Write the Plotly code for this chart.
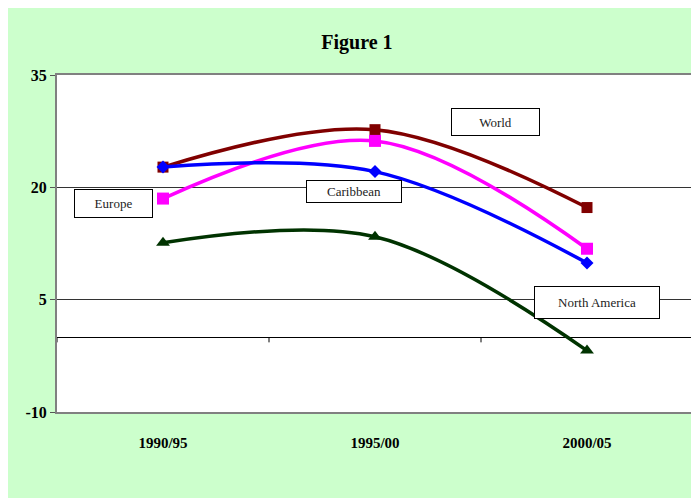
import plotly.graph_objects as go

categories = ["1990/95", "1995/00", "2000/05"]
world = [22.7, 27.7, 17.3]
europe = [18.5, 26.2, 11.8]
caribbean = [22.7, 22.1, 9.9]
north_america = [12.6, 13.4, -1.8]
y_ticks = [-10, 5, 20, 35]
y_tick_labels = ["-10", "5", "20", "35"]

series = [
    ("World", world, "#800000", "square", 11),
    ("Europe", europe, "#FF00FF", "square", 12),
    ("Caribbean", caribbean, "#0000FF", "diamond", 10),
    ("North America", north_america, "#003300", "triangle-up", 12),
]

xs = list(range(len(categories)))
fig = go.Figure()
for name, vals, color, sym, ms in series:
    fig.add_trace(go.Scatter(
        x=xs, y=vals, mode="lines+markers", name=name,
        line=dict(color=color, width=3.5, shape="spline", smoothing=1.0),
        marker=dict(color=color, symbol=sym, size=ms),
    ))

serif = "Liberation Serif"
labels = [
    ("Europe", -0.232, 17.8, 77, 27),
    ("Caribbean", 0.899, 19.47, 94, 21),
    ("World", 1.57, 28.73, 87, 26),
    ("North America", 2.048, 4.67, 124, 31),
]
for text, ax, ay, w, h in labels:
    fig.add_annotation(x=ax, y=ay, xref="x", yref="y", text=text, showarrow=False,
                       font=dict(family=serif, size=13, color="#222"),
                       bgcolor="white", bordercolor="black", borderwidth=1,
                       borderpad=0, width=w, height=h)

shapes = []
for i in range(len(categories) + 1):
    shapes.append(dict(type="line", xref="x", yref="y", x0=i - 0.5, x1=i - 0.5, y0=0, y1=-0.7,
                       line=dict(color="black", width=1)))
fig.update_layout(shapes=shapes)

fig.update_layout(
    width=691, height=490,
    paper_bgcolor="#CCFFCC", plot_bgcolor="white",
    margin=dict(l=49, r=4, t=67, b=86),
    showlegend=False,
    title=dict(text="<b>Figure 1</b>", x=0.505, xanchor="center", y=0.93, yanchor="middle",
               font=dict(family=serif, size=20, color="black")),
    xaxis=dict(range=[-0.5, 2.5], tickvals=xs, ticktext=categories, showgrid=False,
               zeroline=False, showline=True, linecolor="#808080", linewidth=2, mirror=True,
               ticks="", ticklabelstandoff=16,
               tickfont=dict(family=serif, size=15, color="black", weight="bold")),
    yaxis=dict(range=[-10, 35], tickvals=y_ticks, ticktext=y_tick_labels,
               showgrid=True, gridcolor="#333333", gridwidth=1,
               zeroline=True, zerolinecolor="black", zerolinewidth=1,
               showline=True, linecolor="#808080", linewidth=2, mirror=True,
               ticks="outside", ticklen=5, tickcolor="#555555",
               tickfont=dict(family=serif, size=16, color="black", weight="bold")),
)

fig.write_html("out.html")
